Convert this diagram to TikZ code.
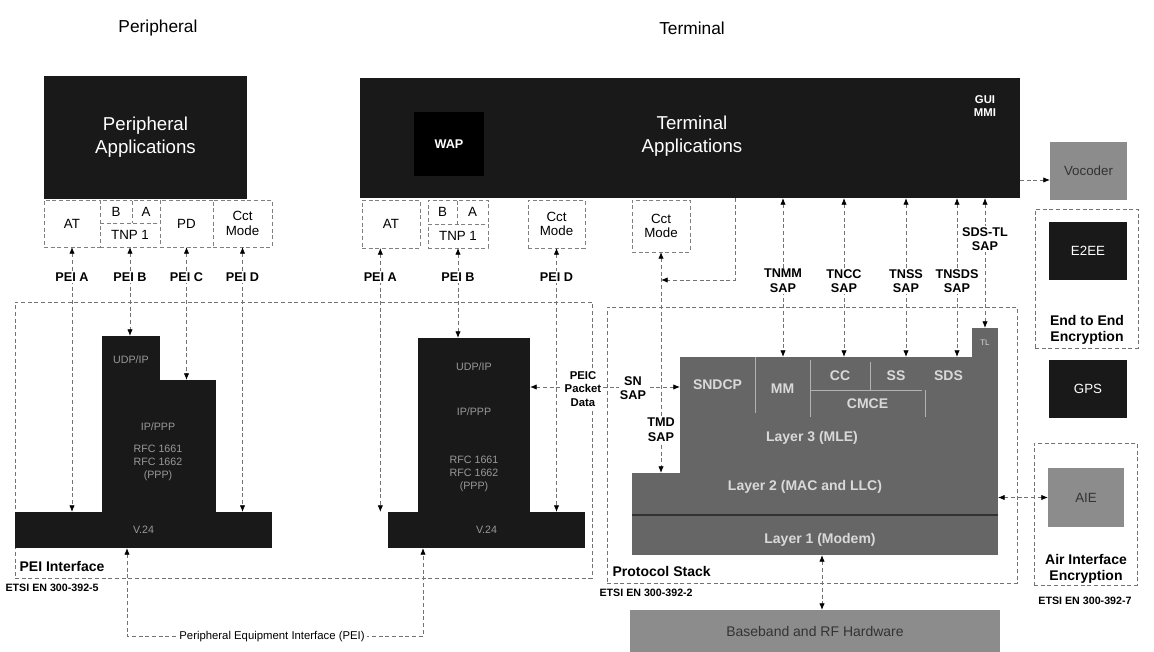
\documentclass[tikz,border=0pt]{standalone}
\usepackage{fontspec}
\setmainfont{Liberation Sans}
\usetikzlibrary{arrows.meta}
\newcommand\bx[7]{\node[#6,anchor=north west,inner sep=0pt,outer sep=0pt,minimum width={(#4-#2)*0.75pt},minimum height={(#5-#3)*0.75pt}] (#1) at (#2,#3) {#7};}
\begin{document}
\begin{tikzpicture}[x=0.75pt,y=-0.75pt,
  dark/.style={fill=black!90,draw=none,text=white,align=center},
  stk/.style={fill=black!90,draw=none,text=black!40,align=center,font=\fontsize{8}{10}\selectfont},
  grey/.style={fill=black!60,draw=none,text=black!15,align=center,font=\fontsize{10.5}{12}\selectfont\bfseries},
  greyd/.style={fill=black!45,draw=none,text=black!80,align=center,font=\fontsize{10}{12}\selectfont},
  sub/.style={draw=none,fill=none,text=black!15,align=center,font=\fontsize{10.5}{12}\selectfont\bfseries},
  subl/.style={draw=black!30,line width=0.7pt},
  wbox/.style={draw=black!50,densely dashed,line width=0.5pt,fill=white,align=center,font=\fontsize{10}{12}\selectfont},
  dbox/.style={draw=black!55,dash pattern=on 3pt off 2pt,line width=0.6pt,fill=none},
  conn/.style={draw=black!55,densely dashed,line width=0.6pt},
  tip/.style={-{Latex[length=5pt,width=4pt,color=black]}},
  tips/.style={{Latex[length=5pt,width=4pt,color=black]}-{Latex[length=5pt,width=4pt,color=black]}},
  lab/.style={font=\fontsize{9.5}{11}\selectfont\bfseries,align=center,fill=white,inner sep=1pt},
  captxt/.style={font=\fontsize{10.5}{12}\selectfont\bfseries,align=center,inner sep=1pt},
  etsi/.style={font=\fontsize{8}{9}\selectfont\bfseries,inner sep=1pt}
]
\useasboundingbox (0,0) rectangle (1154,652);
\fill[white] (0,0) rectangle (1154,652);

% dashed enclosures
\bx{peibox}{15}{302}{592}{578}{dbox}{}
\bx{psbox}{607}{307}{1017}{583}{dbox}{}
\bx{e2ebox}{1035}{209}{1138}{348}{dbox}{}
\bx{aiebox}{1034}{443}{1137}{585}{dbox}{}

% titles
\node[font=\fontsize{13}{15}\selectfont] (tper) at (158,28) {Peripheral};
\node[font=\fontsize{13}{15}\selectfont] (tterm) at (692,28) {Terminal};

% peripheral side
\bx{perapp}{44}{76}{247}{199}{dark,font=\fontsize{14}{17}\selectfont}{Peripheral\\Applications}
\bx{pAT}{44}{200}{100}{247}{wbox}{AT}
\bx{pB}{100}{200}{132}{223}{wbox}{B}
\bx{pA}{132}{200}{160}{223}{wbox}{A}
\bx{pTNP}{100}{223}{160}{247}{wbox}{TNP 1}
\bx{pPD}{160}{200}{213}{247}{wbox}{PD}
\bx{pCct}{213}{200}{272}{247}{wbox,font=\fontsize{10}{11}\selectfont}{Cct\\Mode}

\bx{lsA}{102}{336}{160}{512}{stk}{}
\bx{lsB}{160}{380}{216}{512}{stk}{}
\bx{lV}{15}{512}{272}{548}{stk}{V.24}
\node[stk,fill=none] (lt1) at (131,360) {UDP/IP};
\node[stk,fill=none,align=center] (lt2) at (158,452) {IP/PPP\\[6pt]RFC 1661\\RFC 1662\\(PPP)};

% terminal PEI side
\bx{mAT}{362}{200}{420}{248}{wbox}{AT}
\bx{mB}{428}{200}{457}{224}{wbox}{B}
\bx{mA}{457}{200}{488}{224}{wbox}{A}
\bx{mTNP}{428}{224}{488}{248}{wbox}{TNP 1}
\bx{mCct}{528}{200}{585}{248}{wbox,font=\fontsize{10}{11}\selectfont}{Cct\\Mode}
\bx{ms}{418}{338}{530}{512}{stk}{}
\bx{mV}{388}{512}{585}{548}{stk}{V.24}
\node[stk,fill=none] (mt1) at (474,367) {UDP/IP};
\node[stk,fill=none] (mt2) at (474,412) {IP/PPP};
\node[stk,fill=none,align=center] (mt3) at (474,474) {RFC 1661\\RFC 1662\\(PPP)};

% terminal applications
\bx{term}{360}{78}{1020}{198}{dark}{}
\bx{wap}{414}{112}{484}{176}{fill=black,text=white,font=\fontsize{9.5}{11}\selectfont\bfseries}{WAP}
\node[text=white,font=\fontsize{14}{17}\selectfont,align=center] (tapp) at (692,136) {Terminal\\Applications};
\node[text=white,font=\fontsize{8.5}{10}\selectfont\bfseries,align=center] (gui) at (985,106) {GUI\\MMI};
\bx{tCct}{632}{200}{690}{252}{wbox,font=\fontsize{10}{11}\selectfont}{Cct\\Mode}

% right column
\bx{voc}{1050}{142}{1127}{200}{greyd}{Vocoder}
\bx{e2ee}{1049}{222}{1127}{280}{dark,font=\fontsize{10}{12}\selectfont}{E2EE}
\node[captxt] (e2etxt) at (1087,330) {End to End\\Encryption};
\bx{gps}{1049}{360}{1127}{418}{dark,font=\fontsize{10}{12}\selectfont}{GPS}
\bx{aie}{1048}{468}{1124}{527}{greyd}{AIE}
\node[captxt] (aietxt) at (1086,569) {Air Interface\\Encryption};
\node[etsi] (etsi7) at (1085,601) {ETSI EN 300-392-7};

% protocol stack
\bx{L3}{680}{357}{998}{473}{grey}{}
\bx{L21}{632}{473}{998}{555}{grey}{}
\bx{tl}{972}{328}{998}{357}{grey,font=\fontsize{6}{7}\selectfont}{TL}
\bx{snd}{680}{357}{755}{413}{sub}{SNDCP}
\bx{mm}{755}{360}{810}{417}{sub}{MM}
\bx{cc}{810}{362}{870}{390}{sub}{CC}
\bx{ss}{870}{362}{922}{390}{sub}{SS}
\bx{sds}{922}{362}{975}{390}{sub}{SDS}
\bx{cmce}{810}{390}{925}{417}{sub}{CMCE}
\draw[subl] (snd.north east) -- (snd.south east);
\draw[subl] (mm.north east) -- (mm.south east);
\draw[subl] (cc.north east) -- (cc.south east);
\draw[subl] (cc.south west) -- (ss.south east);
\draw[subl] (cmce.north east) -- (cmce.south east);
\node[grey,fill=none] (l3t) at (812,438) {Layer 3 (MLE)};
\node[grey,fill=none] (l2t) at (805,487) {Layer 2 (MAC and LLC)};
\node[grey,fill=none] (l1t) at (820,540) {Layer 1 (Modem)};
\draw[black!80,line width=1pt] (L21.west |- 0,515) -- (L21.east |- 0,515);
\bx{bb}{630}{610}{1000}{652}{greyd,font=\fontsize{10.5}{12}\selectfont}{Baseband and RF Hardware}

% connectors: peripheral side
\draw[conn,tips] (pAT.south) -- (pAT.south |- lV.north);
\draw[conn,tips] (pTNP.south) -- (pTNP.south |- lsA.north);
\draw[conn,tips] (pPD.south) -- (pPD.south |- lsB.north);
\draw[conn,tips] (pCct.south) -- (pCct.south |- lV.north);
\node[lab] (lpa) at (pAT.south |- 0,277) {PEI A};
\node[lab] (lpb) at (pTNP.south |- 0,277) {PEI B};
\node[lab] (lpc) at (pPD.south |- 0,277) {PEI C};
\node[lab] (lpd) at (pCct.south |- 0,277) {PEI D};

% connectors: terminal PEI side
\draw[conn,tips] ([xshift=-8pt]mAT.south) -- ([xshift=-8pt]mAT.south |- mV.north);
\draw[conn,tips] (mTNP.south) -- (mTNP.south |- ms.north);
\draw[conn,tips] (mCct.south) -- (mCct.south |- mV.north);
\node[lab] (mpa) at ([xshift=-8pt]mAT.south |- 0,277) {PEI A};
\node[lab] (mpb) at (mTNP.south |- 0,277) {PEI B};
\node[lab] (mpd) at (mCct.south |- 0,277) {PEI D};

\coordinate (pc) at (530,387);
\draw[conn,tips] (ms.east |- pc) -- (snd.west |- pc);
\node[lab,font=\fontsize{8.5}{10}\selectfont\bfseries] (peic) at (583,389) {PEIC\\Packet\\Data};
\node[lab] (snsap) at (633,388) {SN\\SAP};

% circuit mode / TMD
\draw[conn,tips] (tCct.south) -- (tCct.south |- L21.north);
\node[lab] (tmd) at (tCct.south |- 0,430) {TMD\\SAP};
\coordinate (bend) at (735,280);
\draw[conn,tip] (term.south -| bend) -- (bend) -- (tCct.south |- bend);

% SAPs
\coordinate (s1) at (783,0);
\coordinate (s2) at (844,0);
\coordinate (s3) at (906,0);
\coordinate (s4) at (957,0);
\draw[conn,tips] (term.south -| s1) -- (L3.north -| s1);
\draw[conn,tips] (term.south -| s2) -- (L3.north -| s2);
\draw[conn,tips] (term.south -| s3) -- (L3.north -| s3);
\draw[conn,tips] (term.south -| s4) -- (L3.north -| s4);
\draw[conn,tips] (term.south -| tl.north) -- (tl.north);
\node[lab] (tnmm) at (s1 |- 0,281) {TNMM\\SAP};
\node[lab] (tncc) at (s2 |- 0,281) {TNCC\\SAP};
\node[lab] (tnss) at (s3 |- 0,281) {TNSS\\SAP};
\node[lab] (tnsds) at (s4 |- 0,281) {TNSDS\\SAP};
\node[lab] (sdstl) at (tl.north |- 0,239) {SDS-TL\\SAP};

% right side links
\coordinate (vy) at (0,180);
\draw[conn,tip] (term.east |- vy) -- (voc.west |- vy);
\draw[conn,tips] (L21.east |- aie.west) -- (aie.west);
\coordinate (bx1) at (822,0);
\draw[conn,tips] (L21.south -| bx1) -- (bb.north -| bx1);

% PEI bottom connector
\coordinate (pb1) at (127,636);
\coordinate (pb2) at (423,636);
\draw[conn,tips] (lV.south -| pb1) -- (pb1) -- (pb2) -- (mV.south -| pb2);
\node[font=\fontsize{8.5}{10}\selectfont,fill=white,inner sep=2pt] (peitxt) at (272,637) {Peripheral Equipment Interface (PEI)};

% captions
\node[captxt,anchor=west] (peicap) at (18,566) {PEI Interface};
\node[etsi,anchor=west] (etsi5) at (4,588) {ETSI EN 300-392-5};
\node[captxt,anchor=west] (pscap) at (611,571) {Protocol Stack};
\node[etsi,anchor=west] (etsi2) at (598,593) {ETSI EN 300-392-2};
\end{tikzpicture}
\end{document}
